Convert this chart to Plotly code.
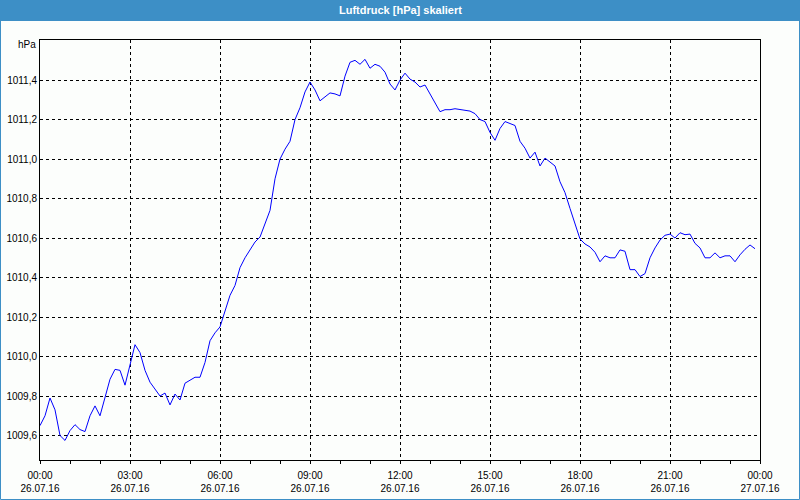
import pandas as pd
import plotly.graph_objects as go

# Data: air pressure every 10 minutes, 26.07.16 00:00 - 23:50
start_time = "2016-07-26 00:00"
pressure_hpa = [
    1009.65, 1009.70, 1009.79, 1009.73, 1009.60, 1009.575, 1009.625, 1009.655, 1009.63, 1009.62,
    1009.70, 1009.75, 1009.70, 1009.80, 1009.885, 1009.935, 1009.93, 1009.855, 1009.96, 1010.06,
    1010.02, 1009.93, 1009.87, 1009.835, 1009.80, 1009.815, 1009.755, 1009.81, 1009.78, 1009.865,
    1009.88, 1009.895, 1009.895, 1009.97, 1010.08, 1010.12, 1010.15, 1010.23, 1010.31, 1010.36,
    1010.45, 1010.50, 1010.54, 1010.58, 1010.605, 1010.67, 1010.74, 1010.90, 1011.00, 1011.05,
    1011.09, 1011.20, 1011.26, 1011.34, 1011.39, 1011.35, 1011.295, 1011.315, 1011.335, 1011.33,
    1011.32, 1011.42, 1011.49, 1011.50, 1011.48, 1011.505, 1011.46, 1011.48, 1011.47, 1011.44,
    1011.38, 1011.35, 1011.40, 1011.435, 1011.405, 1011.39, 1011.365, 1011.375, 1011.33, 1011.285,
    1011.24, 1011.25, 1011.25, 1011.255, 1011.25, 1011.245, 1011.243, 1011.23, 1011.20, 1011.19,
    1011.135, 1011.095, 1011.155, 1011.19, 1011.18, 1011.17, 1011.09, 1011.055, 1011.005, 1011.035,
    1010.965, 1011.005, 1010.985, 1010.965, 1010.885, 1010.83, 1010.75, 1010.67, 1010.595, 1010.57,
    1010.555, 1010.528, 1010.48, 1010.51, 1010.50, 1010.50, 1010.54, 1010.533, 1010.44, 1010.44,
    1010.405, 1010.42, 1010.50, 1010.55, 1010.59, 1010.614, 1010.62, 1010.60, 1010.627, 1010.617,
    1010.62, 1010.573, 1010.55, 1010.50, 1010.50, 1010.525, 1010.50, 1010.51, 1010.51, 1010.48,
    1010.515, 1010.543, 1010.565, 1010.546,
]
times = pd.date_range(start_time, periods=len(pressure_hpa), freq="10min")

x_tick_vals = ["2016-07-26 00:00", "2016-07-26 03:00", "2016-07-26 06:00", "2016-07-26 09:00",
               "2016-07-26 12:00", "2016-07-26 15:00", "2016-07-26 18:00", "2016-07-26 21:00",
               "2016-07-27 00:00"]
x_tick_text = ["00:00<br>26.07.16", "03:00<br>26.07.16", "06:00<br>26.07.16", "09:00<br>26.07.16",
               "12:00<br>26.07.16", "15:00<br>26.07.16", "18:00<br>26.07.16", "21:00<br>26.07.16",
               "00:00<br>27.07.16"]
y_tick_vals = [1009.6, 1009.8, 1010.0, 1010.2, 1010.4, 1010.6, 1010.8, 1011.0, 1011.2, 1011.4]
y_tick_text = ["1009,6", "1009,8", "1010,0", "1010,2", "1010,4", "1010,6", "1010,8", "1011,0",
               "1011,2", "1011,4"]
minor_tick_vals = [str(t) for t in pd.date_range("2016-07-26 00:00", "2016-07-27 00:00", freq="1h")]

title_text = "Luftdruck [hPa] skaliert"
unit_text = "hPa"

W, H = 800, 500
L, R, T, B = 40, 40, 40, 40
PW, PH = W - L - R, H - T - B
BLUE = "#3d8fc6"
BG = "#fcfefc"
FONT = "Liberation Sans, Arial, sans-serif"
FS = 10


def px_x(p):
    return (p - L) / PW


def px_y(p):
    return (H - B - p) / PH


fig = go.Figure()
fig.add_trace(go.Scatter(x=times, y=pressure_hpa, mode="lines",
                         line=dict(color="#0000ff", width=1), hoverinfo="skip"))

fig.update_layout(
    width=W, height=H,
    margin=dict(l=L, r=R, t=T, b=B, autoexpand=False),
    paper_bgcolor=BG, plot_bgcolor=BG,
    showlegend=False,
    font=dict(family=FONT, size=FS, color="#000000"),
    xaxis=dict(
        type="date", automargin=False,
        range=["2016-07-26 00:00", "2016-07-27 00:00"],
        tickmode="array", tickvals=x_tick_vals, ticktext=x_tick_text,
        ticks="outside", ticklen=3, tickcolor="#000", tickwidth=1,
        showgrid=True, gridcolor="#000", gridwidth=1, griddash="3px,3px",
        showline=True, linecolor="#000", linewidth=1, mirror=True,
        zeroline=False,
        minor=dict(tickmode="array", tickvals=minor_tick_vals, ticks="outside",
                   ticklen=3, tickcolor="#000", tickwidth=1, showgrid=False),
        tickfont=dict(family=FONT, size=FS, color="#000"),
        ticklabelstandoff=3,
    ),
    yaxis=dict(
        automargin=False,
        range=[1009.476, 1011.603],
        tickmode="array", tickvals=y_tick_vals, ticktext=y_tick_text,
        ticks="", showgrid=True, gridcolor="#000", gridwidth=1, griddash="3px,3px",
        showline=True, linecolor="#000", linewidth=1, mirror=True,
        zeroline=False,
        tickfont=dict(family=FONT, size=FS, color="#000"),
        ticklabelstandoff=0,
    ),
    shapes=[
        dict(type="rect", xref="paper", yref="paper",
             x0=px_x(0), x1=px_x(W), y0=px_y(0), y1=px_y(21),
             fillcolor=BLUE, line=dict(width=0), layer="above"),
        dict(type="rect", xref="paper", yref="paper",
             x0=px_x(0.5), x1=px_x(W - 0.5), y0=px_y(0.5), y1=px_y(H - 0.5),
             fillcolor="rgba(0,0,0,0)", line=dict(color=BLUE, width=1), layer="above"),
    ],
    annotations=[
        dict(text="<b>" + title_text + "</b>", xref="paper", yref="paper",
             x=px_x(W / 2), y=px_y(9.5), xanchor="center", yanchor="middle",
             showarrow=False, font=dict(family=FONT, size=11, color="#ffffff")),
        dict(text=unit_text, xref="paper", yref="paper",
             x=px_x(37.5), y=px_y(45), xanchor="right", yanchor="middle",
             showarrow=False, font=dict(family=FONT, size=FS, color="#000")),
    ],
)

fig.write_html("out.html")
